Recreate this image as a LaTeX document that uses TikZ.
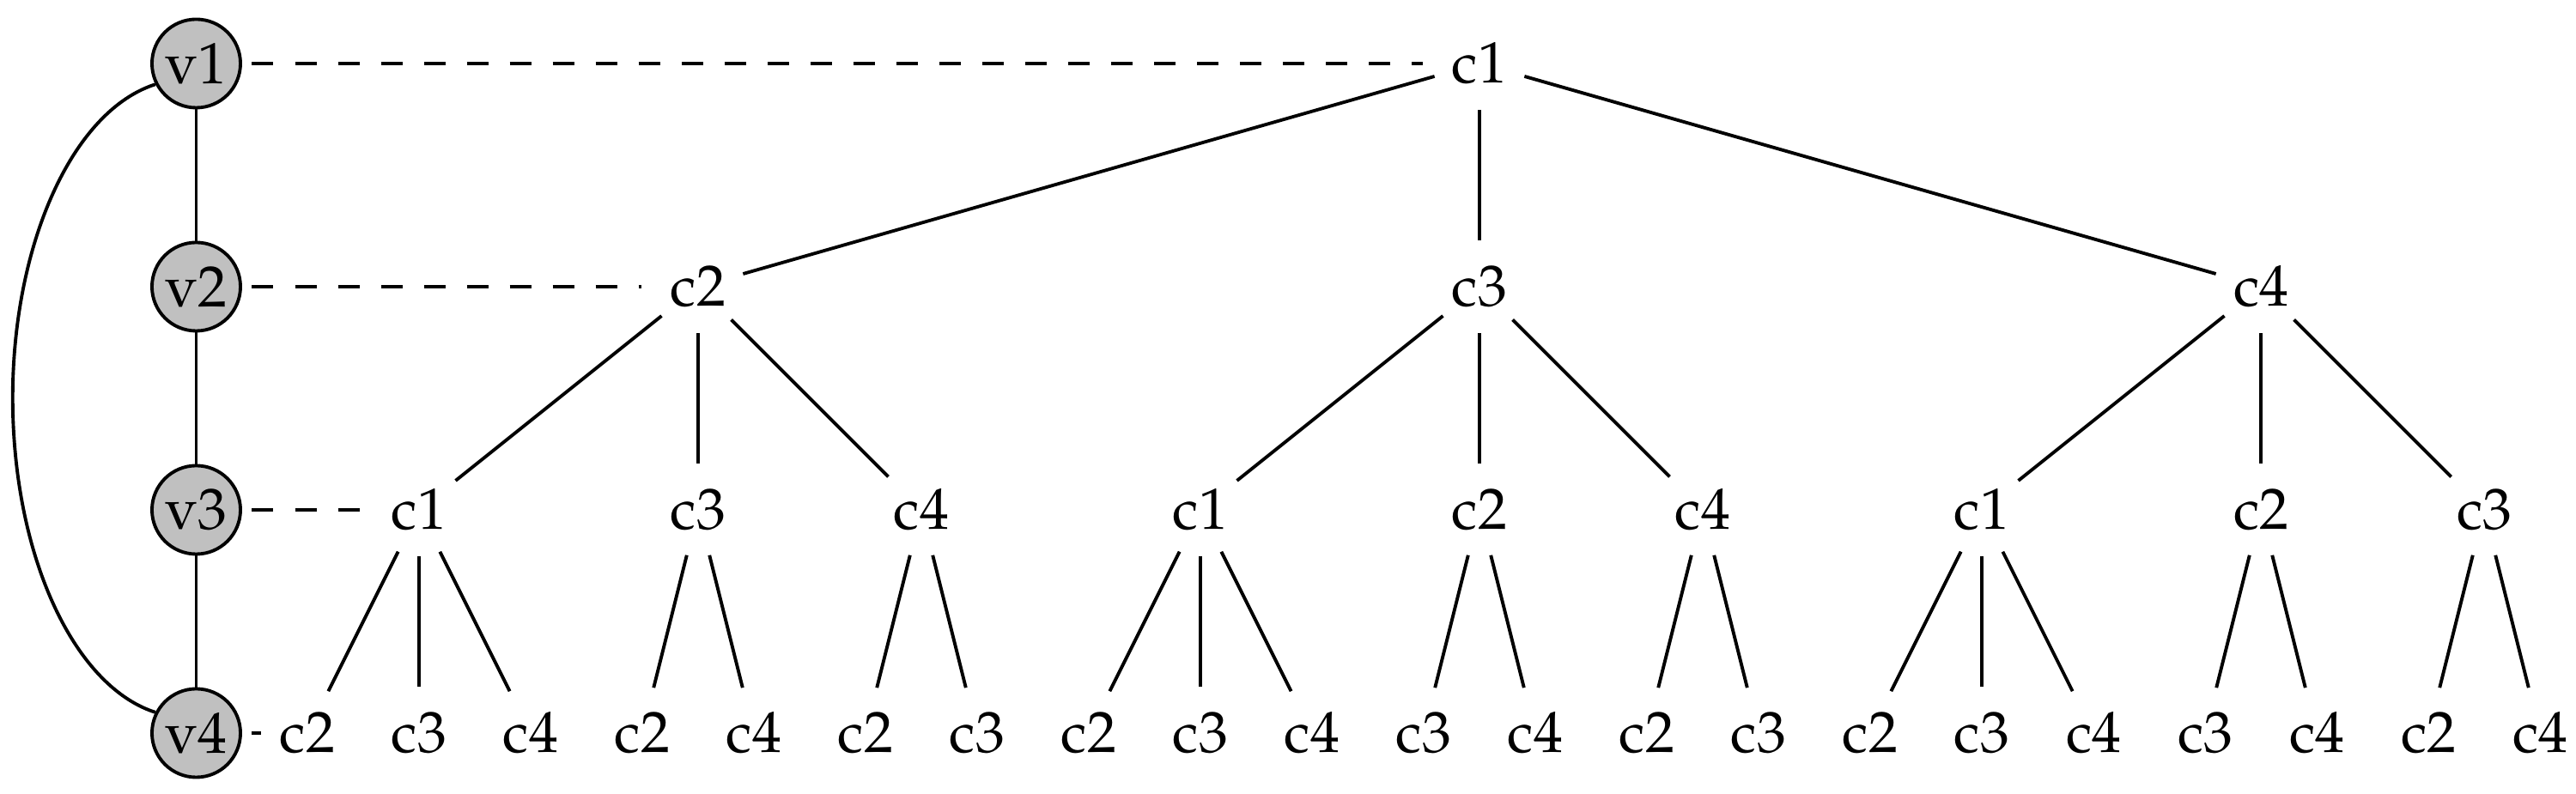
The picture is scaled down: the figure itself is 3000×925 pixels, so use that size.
\documentclass[tikz,border=0pt]{standalone}
\usepackage[T1]{fontenc}
\usepackage{mathpazo}
\definecolor{vgray}{RGB}{192,192,192}
\newcommand\palfont{\fontsize{19.3}{23}\selectfont}
\begin{document}
\begin{tikzpicture}[x=0.01cm,y=0.01cm,line width=1.1pt,
  cn/.style={circle,minimum size=1.05cm,inner sep=0pt,font=\palfont},
  vn/.style={circle,draw,fill=vgray,minimum size=1.03cm,inner sep=0pt,font=\palfont},
  link/.style={dash pattern=on 0.25cm off 0.25cm,shorten <=0.115cm,shorten >=0.115cm},
  lastlink/.style={dash pattern=on 0.25cm off 0.25cm,shorten <=0.11cm}]
\useasboundingbox (0,0) rectangle (3000,925);
% variable column
\node[vn] (v1) at (228.5,851) {v1};
\node[vn] (v2) at (228.5,591) {v2};
\node[vn] (v3) at (228.5,331) {v3};
\node[vn] (v4) at (228.5,71) {v4};
% tree
\node[cn] (r) at ({358+130*10.5},851) {c1};
\node[cn] (a) at ({358+130*3.5},591) {c2};
\node[cn] (b) at ({358+130*10.5},591) {c3};
\node[cn] (c) at ({358+130*17.5},591) {c4};
\node[cn] (a1) at ({358+130*1},331) {c1};
\node[cn] (a2) at ({358+130*3.5},331) {c3};
\node[cn] (a3) at ({358+130*5.5},331) {c4};
\node[cn] (b1) at ({358+130*8},331) {c1};
\node[cn] (b2) at ({358+130*10.5},331) {c2};
\node[cn] (b3) at ({358+130*12.5},331) {c4};
\node[cn] (c1) at ({358+130*15},331) {c1};
\node[cn] (c2) at ({358+130*17.5},331) {c2};
\node[cn] (c3) at ({358+130*19.5},331) {c3};
\foreach \t [count=\k from 0] in {c2,c3,c4,c2,c4,c2,c3,c2,c3,c4,c3,c4,c2,c3,c2,c3,c4,c3,c4,c2,c4}
  \node[cn] (l\k) at ({358+130*\k},71) {\t};
% edges
\draw (v1) -- (v2);
\draw (v2) -- (v3);
\draw (v3) -- (v4);
\draw (v1.207) arc[start angle=99.8,end angle=260.2,x radius=2cm,y radius=3.71cm];
\foreach \p/\q in {r/a,r/b,r/c,a/a1,a/a2,a/a3,b/b1,b/b2,b/b3,c/c1,c/c2,c/c3,
  a1/l0,a1/l1,a1/l2,a2/l3,a2/l4,a3/l5,a3/l6,
  b1/l7,b1/l8,b1/l9,b2/l10,b2/l11,b3/l12,b3/l13,
  c1/l14,c1/l15,c1/l16,c2/l17,c2/l18,c3/l19,c3/l20}
  \draw (\p) -- (\q);
% links
\draw[link] (v1) -- (r);
\draw[link] (v2) -- (a);
\draw[link] (v3) -- (a1);
\draw[lastlink] (v4) -- (l0);
\end{tikzpicture}
\end{document}
